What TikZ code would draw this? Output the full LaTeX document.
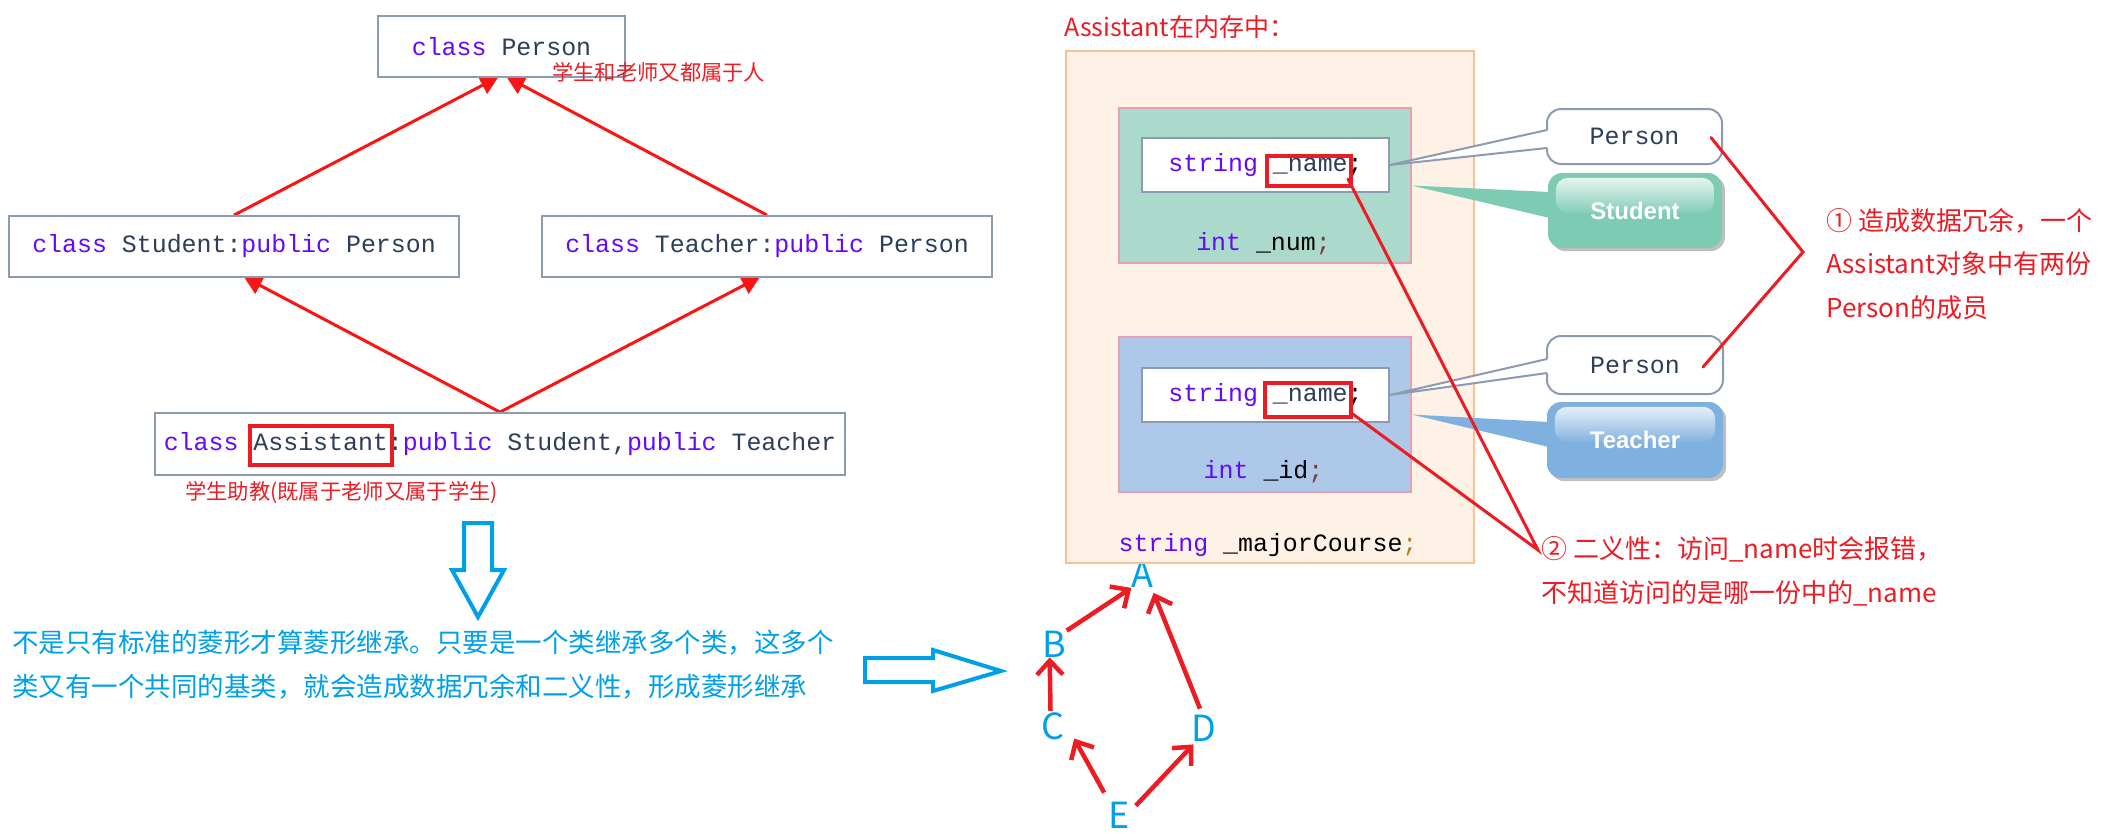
\documentclass[tikz,border=0pt]{standalone}
\usepackage{fontspec}
\setmonofont{Liberation Mono}
\newfontfamily\cjk{Noto Sans CJK SC}
\newfontfamily\lsans{Liberation Sans}
\usetikzlibrary{arrows.meta,calc,shadows}
\definecolor{kw}{RGB}{100,10,250}
\definecolor{idc}{RGB}{44,62,90}
\definecolor{boxgray}{RGB}{140,154,178}
\definecolor{lred}{RGB}{250,20,20}
\definecolor{ared}{RGB}{235,28,36}
\definecolor{cblue}{RGB}{0,160,233}
\definecolor{memfill}{RGB}{254,241,230}
\definecolor{memdraw}{RGB}{250,192,143}
\definecolor{grnfill}{RGB}{171,217,204}
\definecolor{blufill}{RGB}{173,200,232}
\definecolor{pinkdraw}{RGB}{230,160,180}
\definecolor{stfill}{RGB}{126,203,180}
\definecolor{tefill}{RGB}{126,176,224}
\definecolor{semi}{RGB}{120,60,60}
\definecolor{semiol}{RGB}{176,128,32}
\pgfdeclarelayer{back}
\pgfsetlayers{back,main}
\newcommand{\codefont}{\ttfamily\fontsize{24.9}{30}\selectfont}
\newcommand{\kwd}[1]{\textcolor{kw}{#1}}
\newcommand{\idn}[1]{\textcolor{idc}{#1}}
\tikzset{
  clsbox/.style={draw=boxgray, line width=1.8pt, fill=white, inner sep=0pt, font=\codefont, text=idc},
  redrect/.style={draw=ared, line width=4pt, inner sep=0pt},
  inharrow/.style={draw=lred, line width=3pt, -{Triangle[length=18pt,width=19pt]}},
  abarrow/.style={draw=ared, line width=4.5pt, -{Straight Barb[length=14pt,width=26pt]}},
  redline/.style={draw=ared, line width=3pt, line cap=round},
  redlabel/.style={text=ared, inner sep=0pt, font={\cjk\fontsize{21.3}{25}\selectfont}},
  notelabel/.style={text=ared, inner sep=0pt, align=left, font={\cjk\fontsize{26}{43.5}\selectfont}},
  hollow/.style={draw=cblue, line width=4pt, line join=miter},
  letter/.style={text=cblue, inner sep=0pt, font={\cjk\fontsize{36}{40}\selectfont}},
  membox/.style={draw=memdraw, line width=1.5pt, fill=memfill, inner sep=0pt},
  subbox/.style={draw=pinkdraw, line width=1.5pt, inner sep=0pt},
  fieldbox/.style={draw=boxgray, line width=1.5pt, fill=white, inner sep=0pt, font=\codefont, text=black},
  field/.style={inner sep=0pt, font=\codefont, text=black},
  callw/.style={draw=boxgray, line width=2pt, fill=white, rounded corners=14pt, inner sep=0pt, font=\codefont, text=idc},
  callc/.style={rounded corners=14pt, inner sep=0pt, drop shadow={shadow xshift=3pt, shadow yshift=-3pt, fill=black, opacity=0.25}},
  calltext/.style={text=white, inner sep=0pt, font={\lsans\bfseries\fontsize{24}{28}\selectfont}},
}
\begin{document}
\begin{tikzpicture}[x=1pt,y=-1pt]
\useasboundingbox (0,0) rectangle (2102,833);
% ---------------- left: class hierarchy
\node[clsbox, minimum width=247pt, minimum height=61pt] (pers) at (501.5,46.5) {\kwd{class} Person};
\node[clsbox, minimum width=450pt, minimum height=61pt] (stu) at (234,246.5) {\kwd{class} Student:\kwd{public} Person};
\node[clsbox, minimum width=450pt, minimum height=61pt] (tea) at (767,246.5) {\kwd{class} Teacher:\kwd{public} Person};
\node[clsbox, minimum width=690pt, minimum height=62pt] (asst) at (500,444) {\kwd{class} Assistant:\kwd{public} Student,\kwd{public} Teacher};
\node[redrect, minimum width=142pt, minimum height=39pt] (asr) at (320.5,445.5) {};
\begin{pgfonlayer}{back}
\draw[inharrow] (stu.north) -- ($(pers.south)+(-3,-1)$);
\draw[inharrow] (tea.north) -- ($(pers.south)+(5,-1)$);
\draw[inharrow] (asst.north) -- ($(stu.south)+(10,-1)$);
\draw[inharrow] (asst.north) -- ($(tea.south)+(-7,-1)$);
\end{pgfonlayer}
\node[redlabel, anchor=west] (lb1) at (552,72) {学生和老师又都属于人};
\node[redlabel, anchor=west] (lb2) at (185,493) {学生助教(既属于老师又属于学生)};
% hollow arrows
\draw[hollow] (464,523) -- (464,570) -- (452,570) -- (478,617) -- (504,570) -- (492,570) -- (492,523) -- cycle;
\draw[hollow] (865,658) -- (933,658) -- (933,650) -- (1001,671) -- (933,691) -- (933,682) -- (865,682) -- cycle;
\node[anchor=west, text=cblue, inner sep=0pt, align=left, font={\cjk\fontsize{26.5}{44}\selectfont}] (desc) at (12,665) {不是只有标准的菱形才算菱形继承。只要是一个类继承多个类，这多个\\类又有一个共同的基类，就会造成数据冗余和二义性，形成菱形继承};
% letters
\node[letter] (A) at (1142.5,574.5) {A};
\node[letter] (B) at (1054.7,644) {B};
\node[letter] (C) at (1052.5,726.7) {C};
\node[letter] (D) at (1204,728) {D};
\node[letter] (E) at (1119,815) {E};
\draw[abarrow] (B.north east) -- (A.south west);
\draw[abarrow] ($(D.north)+(-4,-6)$) -- ($(A.south east)+(0,5)$);
\draw[abarrow] ($(C.north)+(-2,-2)$) -- ($(B.south)+(-5,0)$);
\draw[abarrow] ($(E.north west)+(-4,-9)$) -- ($(C.south east)+(10,-2)$);
\draw[abarrow] ($(E.north east)+(6,4)$) -- ($(D.south west)+(2,3)$);
% ---------------- right: memory layout
\node[redlabel, anchor=west, font={\cjk\fontsize{25}{30}\selectfont}] (memt) at (1064,27) {Assistant在内存中：};
\node[membox, minimum width=408pt, minimum height=512pt] (mem) at (1270,307) {};
\node[subbox, fill=grnfill, minimum width=292pt, minimum height=155pt] (sbox) at (1265,185.5) {};
\node[fieldbox, minimum width=247pt, minimum height=54pt] (nm1) at (1265.5,165) {\kwd{string} \idn{\_name};};
\node[redrect, minimum width=84pt, minimum height=30pt] (r1) at (1309,171) {};
\node[field] (num) at (1263.5,244) {\kwd{int} \_num\textcolor{semi}{;}};
\node[subbox, fill=blufill, minimum width=292pt, minimum height=155pt] (tbox) at (1265,414.5) {};
\node[fieldbox, minimum width=247pt, minimum height=54pt] (nm2) at (1265.5,395) {\kwd{string} \idn{\_name};};
\node[redrect, minimum width=86pt, minimum height=34pt] (r2) at (1308,400) {};
\node[field] (id) at (1263.5,472) {\kwd{int} \_id\textcolor{semi}{;}};
\node[field] (maj) at (1268,545) {\kwd{string} \_majorCourse\textcolor{semiol}{;}};
% callouts
\node[callw, minimum width=175pt, minimum height=55pt] (p1) at (1634.5,136.5) {Person};
\node[callc, fill=stfill, minimum width=174pt, minimum height=75pt] (st) at (1635,210.5) {};
\shade[top color=white!80!stfill, bottom color=stfill!95!white, rounded corners=12pt] ($(st.north west)+(8,5)$) rectangle ($(st.north east)+(-8,40)$);
\node[calltext] (stt) at (st.center) {Student};
\node[callw, minimum width=176pt, minimum height=58pt] (p2) at (1635,365) {Person};
\node[callc, fill=tefill, minimum width=176pt, minimum height=76pt] (te) at (1635,440) {};
\shade[top color=white!80!tefill, bottom color=tefill!95!white, rounded corners=12pt] ($(te.north west)+(8,5)$) rectangle ($(te.north east)+(-8,40)$);
\node[calltext] (tet) at (te.center) {Teacher};
% tails
\fill[stfill] ($(st.west)+(2,-18.5)$) -- (sbox.east) -- ($(st.west)+(2,7.5)$) -- cycle;
\fill[tefill] ($(te.west)+(2,-18)$) -- (tbox.east) -- ($(te.west)+(2,7)$) -- cycle;
\fill[white] ($(p1.west)+(3,-6.5)$) -- (nm1.east) -- ($(p1.west)+(3,11.5)$) -- cycle;
\draw[boxgray, line width=2pt] ($(p1.west)+(1,-6.5)$) -- (nm1.east) -- ($(p1.west)+(1,11.5)$);
\fill[white] ($(p2.west)+(3,-6)$) -- (nm2.east) -- ($(p2.west)+(3,8)$) -- cycle;
\draw[boxgray, line width=2pt] ($(p2.west)+(1,-6)$) -- (nm2.east) -- ($(p2.west)+(1,8)$);
% notes
\node[notelabel, anchor=west] (n1) at (1826,264) {① 造成数据冗余，一个\\Assistant对象中有两份\\Person的成员};
\node[notelabel, anchor=west] (n2) at (1541,571.5) {② 二义性：访问\_name时会报错，\\不知道访问的是哪一份中的\_name};
\coordinate (v1) at (1803,252);
\draw[redline] ($(p1.east)+(-12,1)$) -- (v1) -- ($(p2.east)+(-21,2)$);
\coordinate (v2) at (1538,550);
\draw[redline] ($(r1.south east)+(-5,-9)$) -- (v2) -- ($(r2.south east)+(-3,-7)$);
\end{tikzpicture}
\end{document}
